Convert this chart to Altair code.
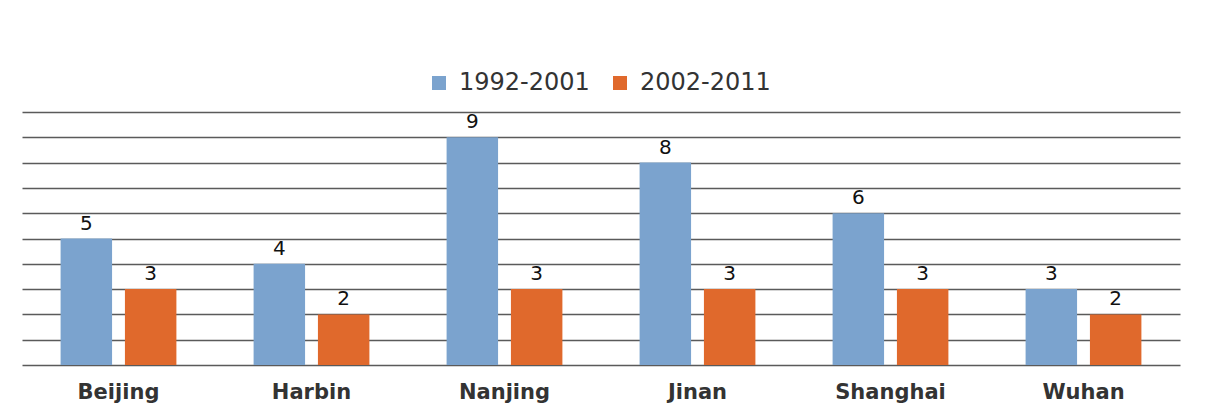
import altair as alt
import pandas as pd

cities = ["Beijing", "Harbin", "Nanjing", "Jinan", "Shanghai", "Wuhan"]
periods = ["1992-2001", "2002-2011"]
values_1992_2001 = [5, 4, 9, 8, 6, 3]
values_2002_2011 = [3, 2, 3, 3, 3, 2]
colors = ["#7BA3CE", "#E0692C"]
grid_values = list(range(0, 11))

rows = []
for c, a, b in zip(cities, values_1992_2001, values_2002_2011):
    rows.append({"city": c, "period": periods[0], "value": a})
    rows.append({"city": c, "period": periods[1], "value": b})
df = pd.DataFrame(rows)

x = alt.X(
    "city:N", sort=cities,
    scale=alt.Scale(paddingInner=0.4, paddingOuter=0.2),
    axis=alt.Axis(title=None, labelAngle=0, ticks=False, domain=False, grid=False,
                  labelFontSize=21, labelFont="DejaVu Sans", labelFontWeight="bold",
                  labelColor="#333333", labelPadding=16, labelBaseline="top"),
)
xo = alt.XOffset("period:N", sort=periods, scale=alt.Scale(paddingInner=0.2))
y = alt.Y(
    "value:Q",
    scale=alt.Scale(domain=[0, 10], nice=False),
    axis=alt.Axis(values=grid_values, grid=True, labels=False, ticks=False, domain=False,
                  title=None, gridColor="#5a5a5a", gridWidth=1.5),
)

base = alt.Chart(df).encode(x=x, xOffset=xo, y=y)

bars = base.mark_bar().encode(
    color=alt.Color(
        "period:N", sort=periods,
        scale=alt.Scale(domain=periods, range=colors),
        legend=alt.Legend(title=None, orient="none", legendX=405, legendY=-41,
                          direction="horizontal", symbolType="square", symbolSize=196,
                          symbolStrokeWidth=0, symbolOpacity=1,
                          labelFontSize=24, labelFont="DejaVu Sans", labelColor="#333333",
                          labelOffset=8, columnPadding=18),
    )
)

text = base.mark_text(baseline="bottom", dy=-5, fontSize=20, font="DejaVu Sans",
                      color="#111111").encode(text="value:Q")

chart = (bars + text).properties(
    width=1158, height=253,
    padding={"left": 14, "top": 104, "right": 29, "bottom": 41},
    autosize=alt.AutoSizeParams(type="none"),
    background="white",
).configure_view(stroke=None)

chart.save("out.html", embed_options={"renderer": "svg", "actions": False})
